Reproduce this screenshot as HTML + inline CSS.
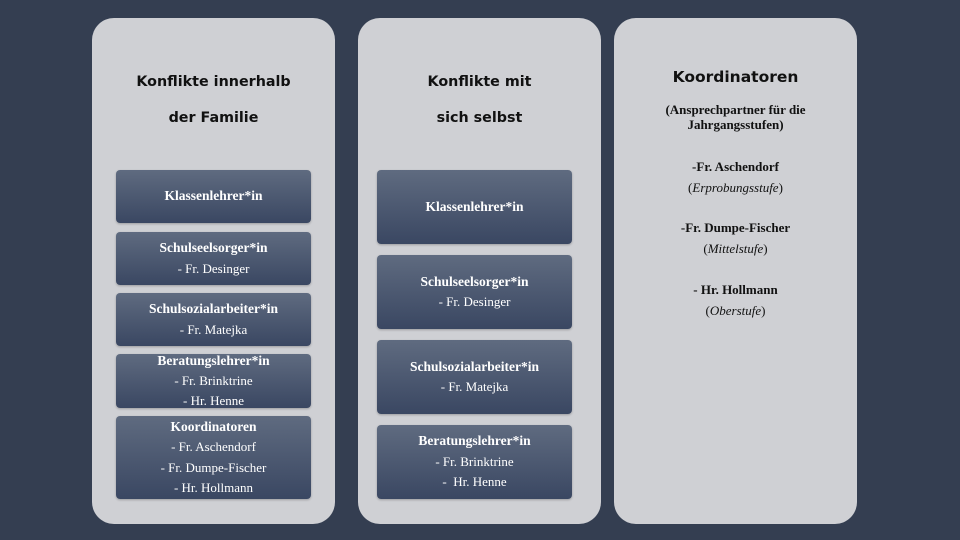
<!DOCTYPE html>
<html><head><meta charset="utf-8"><style>
body{margin:0;width:960px;height:540px;background:#343e51;position:relative;overflow:hidden;font-family:"Liberation Serif",serif}
.p{position:absolute;top:18px;height:506px;width:243px;background:#cfd0d4;border-radius:22px}
.t{position:absolute;width:243px;text-align:center;font-family:"Comic Sans MS","DejaVu Sans",sans-serif;font-weight:bold;font-size:14.3px;color:#111}
.b{position:absolute;width:195px;border-radius:4px;background:linear-gradient(#5f6b80,#3a4762);color:#fff;text-align:center;font-size:13px;display:flex;flex-direction:column;justify-content:center;line-height:20.5px;box-shadow:0 1px 2px rgba(0,0,0,.25)}
.b b{font-size:13.5px}
.r{position:absolute;left:614px;width:243px;text-align:center;font-size:13px;color:#111}
</style></head><body>
<div class="p" style="left:92px"></div>
<div class="p" style="left:358px"></div>
<div class="p" style="left:614px"></div>
<div class="t" style="left:92px;top:64px;line-height:36px">Konflikte innerhalb<br>der Familie</div>
<div class="t" style="left:358px;top:64px;line-height:36px">Konflikte mit<br>sich selbst</div>
<div class="t" style="left:614px;top:68px;font-size:15.5px">Koordinatoren</div>
<div class="b" style="left:116px;top:170px;height:53px"><b>Klassenlehrer*in</b></div>
<div class="b" style="left:116px;top:232px;height:53px"><b>Schulseelsorger*in</b>- Fr. Desinger</div>
<div class="b" style="left:116px;top:293px;height:53px"><b>Schulsozialarbeiter*in</b>- Fr. Matejka</div>
<div class="b" style="left:116px;top:354px;height:54px;line-height:20px"><b>Beratungslehrer*in</b>- Fr. Brinktrine<br>- Hr. Henne</div>
<div class="b" style="left:116px;top:416px;height:83px"><b>Koordinatoren</b>- Fr. Aschendorf<br>- Fr. Dumpe-Fischer<br>- Hr. Hollmann</div>
<div class="b" style="left:377px;top:170px;height:74px"><b>Klassenlehrer*in</b></div>
<div class="b" style="left:377px;top:255px;height:74px"><b>Schulseelsorger*in</b>- Fr. Desinger</div>
<div class="b" style="left:377px;top:340px;height:74px"><b>Schulsozialarbeiter*in</b>- Fr. Matejka</div>
<div class="b" style="left:377px;top:425px;height:74px"><b>Beratungslehrer*in</b>- Fr. Brinktrine<br>-&nbsp; Hr. Henne</div>
<div class="r" style="top:102px;line-height:15px"><b>(Ansprechpartner für die<br>Jahrgangsstufen)</b></div>
<div class="r" style="top:156px;line-height:21px"><b>-Fr. Aschendorf</b><br>(<i>Erprobungsstufe</i>)</div>
<div class="r" style="top:217px;line-height:21px"><b>-Fr. Dumpe-Fischer</b><br>(<i>Mittelstufe</i>)</div>
<div class="r" style="top:279px;line-height:21px"><b>- Hr. Hollmann</b><br>(<i>Oberstufe</i>)</div>
</body></html>
